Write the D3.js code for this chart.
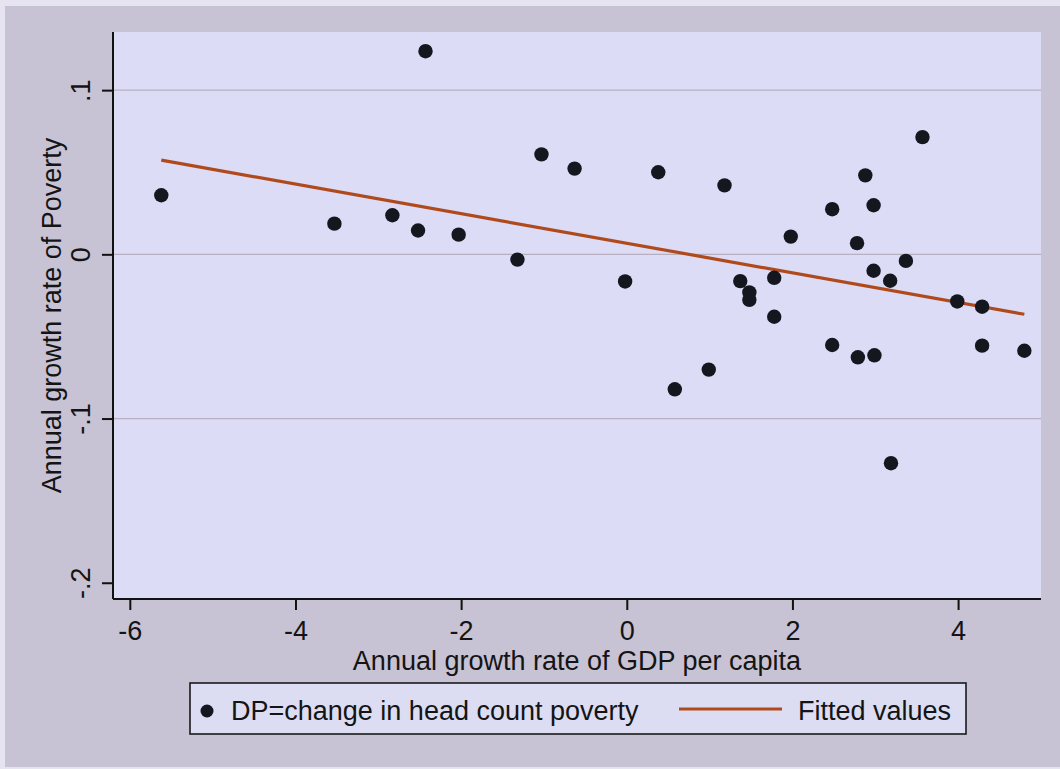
<!DOCTYPE html>
<html>
<head>
<meta charset="utf-8">
<script src="https://cdn.jsdelivr.net/npm/d3@7"></script>
<style>
  html, body { margin: 0; padding: 0; background: #e6e4f1; }
  svg { display: block; }
  text { font-family: "Liberation Sans", Arial, Helvetica, sans-serif; fill: #141414; }
</style>
</head>
<body>
<svg id="chart" width="1060" height="769"></svg>
<script>
// GDP per capita growth vs. poverty growth, one point per observation
const gdpGrowth = [
  -5.62, -3.53, -2.83, -2.52, -2.43, -2.03, -1.32, -1.03, -0.63, -0.02,
   0.38,  0.58,  0.99,  1.18,  1.37,  1.48,  1.48,  1.78,  1.78,  1.98,
   2.48,  2.48,  2.78,  2.79,  2.88,  2.98,  2.98,  2.99,  3.18,  3.19,
   3.37,  3.57,  3.99,  4.29,  4.29,  4.80
];
const povertyGrowth = [
   0.0360,  0.0187,  0.0238,  0.0145,  0.1237,  0.0120, -0.0032,  0.0609,  0.0522, -0.0165,
   0.0500, -0.0822, -0.0702,  0.0420, -0.0163, -0.0232, -0.0277, -0.0143, -0.0380,  0.0108,
   0.0275, -0.0552,  0.0068, -0.0627,  0.0481,  0.0299, -0.0100, -0.0615, -0.0161, -0.1272,
  -0.0040,  0.0714, -0.0287, -0.0319, -0.0556, -0.0587
];

// Fitted regression line (endpoints at the extreme x values)
const fitX = [-5.62, 4.80];
const fitY = [0.0574, -0.0365];

// Axis ticks and labels
const xTicks = [-6, -4, -2, 0, 2, 4];
const xTickLabels = ["-6", "-4", "-2", "0", "2", "4"];
const yTicks = [0.1, 0, -0.1, -0.2];
const yTickLabels = [".1", "0", "-.1", "-.2"];
const yGrid = [0.1, 0, -0.1];

const xTitle = "Annual growth rate of GDP per capita";
const yTitle = "Annual growth rate of Poverty";
const legendLabels = ["DP=change in head count poverty", "Fitted values"];

const svg = d3.select("#chart");

const plot = { left: 113, right: 1041, top: 32, bottom: 599 };

const x = d3.scaleLinear().domain([-6.203, 5.001]).range([plot.left, plot.right]);
const y = d3.scaleLinear().domain([-0.2099, 0.1354]).range([plot.bottom, plot.top]);

// Graph region background
svg.append("rect")
  .attr("x", 5).attr("y", 6).attr("width", 1055).attr("height", 761)
  .attr("fill", "#c7c2d4");

// Plot region
svg.append("rect")
  .attr("x", plot.left).attr("y", plot.top)
  .attr("width", plot.right - plot.left).attr("height", plot.bottom - plot.top)
  .attr("fill", "#dcdcf6");

// Horizontal grid lines
svg.append("g").selectAll("line").data(yGrid).join("line")
  .attr("x1", plot.left).attr("x2", plot.right)
  .attr("y1", d => y(d)).attr("y2", d => y(d))
  .attr("stroke", "#b8b0c0").attr("stroke-width", 1.2);

// Y axis
const yAxis = d3.axisLeft(y)
  .tickValues(yTicks)
  .tickFormat((d, i) => yTickLabels[i])
  .tickSize(11).tickPadding(12);
const gy = svg.append("g").attr("transform", `translate(${plot.left},0)`).call(yAxis);
gy.select(".domain").attr("stroke", "#111").attr("stroke-width", 2)
  .attr("d", `M0,${plot.top}V${plot.bottom}`);
gy.selectAll(".tick line").attr("stroke", "#111").attr("stroke-width", 2);
gy.selectAll(".tick text")
  .attr("font-size", 27)
  .attr("x", null).attr("dy", null)
  .attr("text-anchor", "middle")
  .attr("transform", "translate(-23,0) rotate(-90)")
  .attr("y", 0);

// X axis
const xAxis = d3.axisBottom(x)
  .tickValues(xTicks)
  .tickFormat((d, i) => xTickLabels[i])
  .tickSize(11).tickPadding(12);
const gx = svg.append("g").attr("transform", `translate(0,${plot.bottom})`).call(xAxis);
gx.select(".domain").attr("stroke", "#111").attr("stroke-width", 2)
  .attr("d", `M${plot.left},0H${plot.right}`);
gx.selectAll(".tick line").attr("stroke", "#111").attr("stroke-width", 2);
gx.selectAll(".tick text").attr("font-size", 27).attr("dy", null).attr("y", 41);

svg.selectAll(".tick text").style("font-family", '"Liberation Sans", Arial, sans-serif').attr("fill", "#141414");

// Axis titles
svg.append("text")
  .attr("x", (plot.left + plot.right) / 2).attr("y", 670)
  .attr("text-anchor", "middle").attr("font-size", 27)
  .text(xTitle);

svg.append("text")
  .attr("transform", `translate(61,${(plot.top + plot.bottom) / 2}) rotate(-90)`)
  .attr("text-anchor", "middle").attr("font-size", 27)
  .text(yTitle);

// Fitted line
const line = d3.line().x(d => x(d[0])).y(d => y(d[1]));
svg.append("path")
  .datum(fitX.map((v, i) => [v, fitY[i]]))
  .attr("d", line)
  .attr("fill", "none").attr("stroke", "#b04a1c").attr("stroke-width", 3.2);

// Scatter points
svg.append("g").selectAll("circle")
  .data(gdpGrowth.map((v, i) => [v, povertyGrowth[i]]))
  .join("circle")
  .attr("cx", d => x(d[0])).attr("cy", d => y(d[1]))
  .attr("r", 7.2)
  .attr("fill", "#15171f");

// Legend
const lg = svg.append("g");
lg.append("rect")
  .attr("x", 190).attr("y", 683).attr("width", 776).attr("height", 51)
  .attr("fill", "#dcdcf3").attr("stroke", "#1a1a1a").attr("stroke-width", 1.6);
lg.append("circle").attr("cx", 207).attr("cy", 711).attr("r", 6.5).attr("fill", "#15171f");
lg.append("text").attr("x", 231).attr("y", 720).attr("font-size", 27).text(legendLabels[0]);
lg.append("line").attr("x1", 679).attr("x2", 782).attr("y1", 709).attr("y2", 709)
  .attr("stroke", "#b04a1c").attr("stroke-width", 3.2);
lg.append("text").attr("x", 798).attr("y", 720).attr("font-size", 27).text(legendLabels[1]);
</script>
</body>
</html>
